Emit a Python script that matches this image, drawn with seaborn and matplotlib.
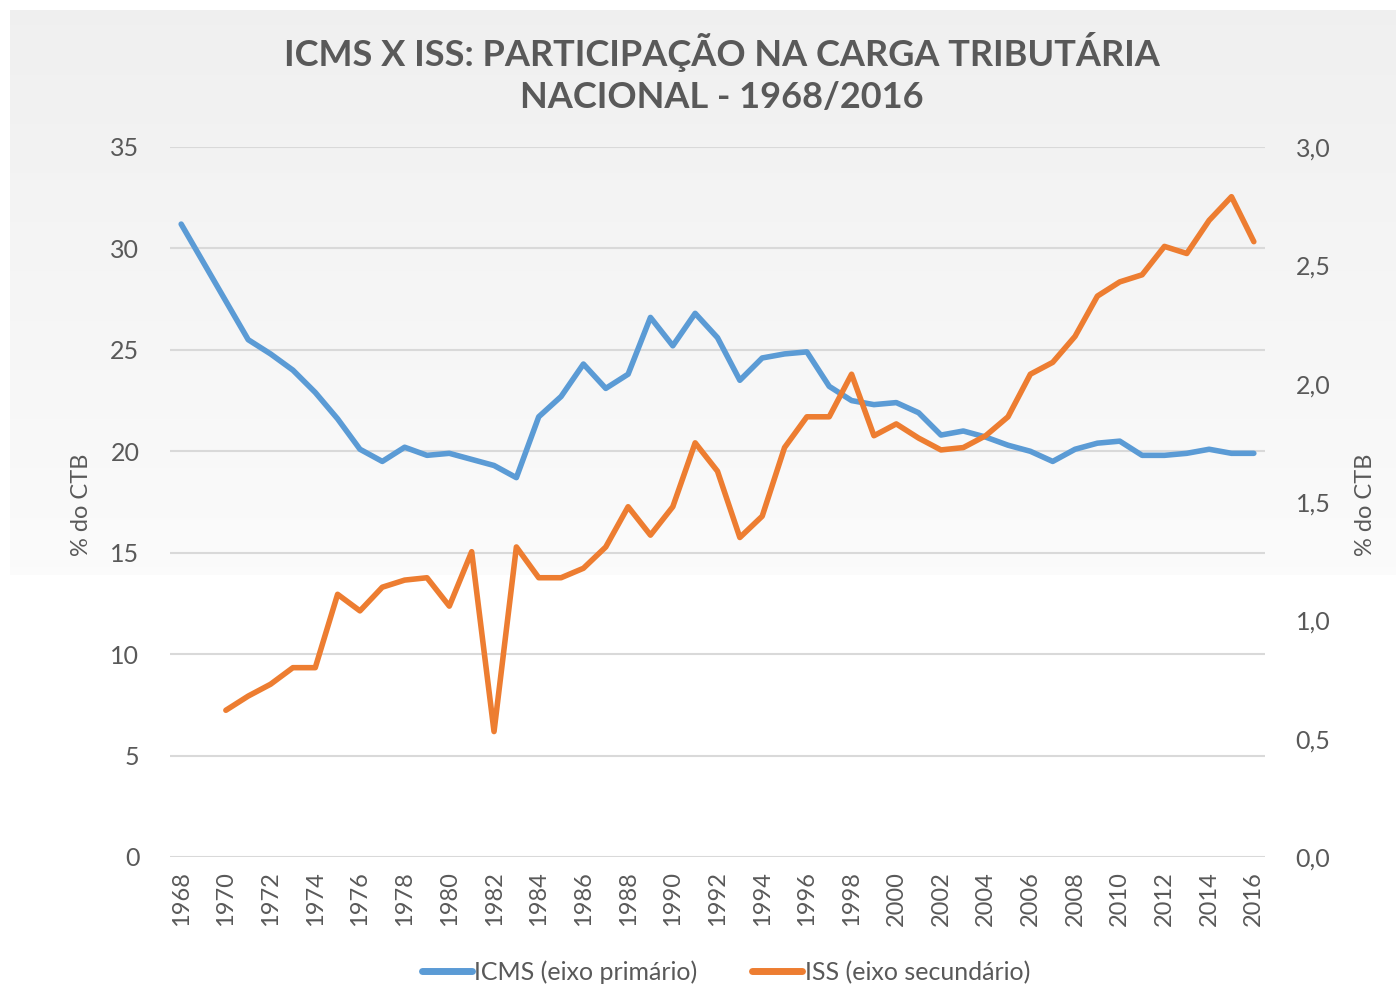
import numpy as np
import pandas as pd
import seaborn as sns
import matplotlib.pyplot as plt
from matplotlib.ticker import FuncFormatter, MultipleLocator

# data
years = list(range(1968, 2017))
icms = [31.2, 29.3, 27.4, 25.5, 24.8, 24.0, 22.9, 21.6, 20.1, 19.5,
        20.2, 19.8, 19.9, 19.6, 19.3, 18.7, 21.7, 22.7, 24.3, 23.1,
        23.8, 26.6, 25.2, 26.8, 25.6, 23.5, 24.6, 24.8, 24.9, 23.2,
        22.5, 22.3, 22.4, 21.9, 20.8, 21.0, 20.7, 20.3, 20.0, 19.5,
        20.1, 20.4, 20.5, 19.8, 19.8, 19.9, 20.1, 19.9, 19.9]
iss = [np.nan, np.nan,
       0.62, 0.68, 0.73, 0.80, 0.80, 1.11, 1.04, 1.14, 1.17, 1.18,
       1.06, 1.29, 0.53, 1.31, 1.18, 1.18, 1.22, 1.31, 1.48, 1.36,
       1.48, 1.75, 1.63, 1.35, 1.44, 1.73, 1.86, 1.86, 2.04, 1.78,
       1.83, 1.77, 1.72, 1.73, 1.78, 1.86, 2.04, 2.09, 2.20, 2.37,
       2.43, 2.46, 2.58, 2.55, 2.69, 2.79, 2.60]

TITLE = "ICMS X ISS: PARTICIPAÇÃO NA CARGA TRIBUTÁRIA\nNACIONAL - 1968/2016"
LABEL_ICMS = "ICMS (eixo primário)"
LABEL_ISS = "ISS (eixo secundário)"
YLABEL = "% do CTB"

BLUE = "#5b9bd5"
ORANGE = "#ed7d31"
GREY_TXT = "#595959"
GRID = "#d9d9d9"

df = pd.DataFrame({"ano": years, "icms": icms, "iss": iss})

sns.set_theme(style="white")
plt.rcParams["font.family"] = ["Lato", "DejaVu Sans"]

W, H, DPI = 1396, 985, 100
fig = plt.figure(figsize=(W / DPI, H / DPI), dpi=DPI)

# light grey gradient background like the spreadsheet chart area
bg = np.ones((H, W, 3))
rows = np.arange(H)
shade = np.where(rows < 10, 1.0,
                 np.where(rows < 575, 0.94 + 0.045 * (rows - 10) / 565, 1.0))
bg[:, :, :] = shade[:, None, None]
bg[:, :10, :] = 1.0
fig.figimage(bg, 0, 0, origin="upper", zorder=-10)

ax = fig.add_axes([170 / W, 1 - 857 / H, 1095 / W, 710 / H])
ax.patch.set_alpha(0)
ax2 = ax.twinx()
ax2.patch.set_alpha(0)

sns.lineplot(data=df, x="ano", y="icms", ax=ax, color=BLUE, lw=4,
             label=LABEL_ICMS, legend=False, solid_capstyle="round")
sns.lineplot(data=df, x="ano", y="iss", ax=ax2, color=ORANGE, lw=4,
             label=LABEL_ISS, legend=False, solid_capstyle="round")

ax.set_xlim(1967.5, 2016.5)
ax.set_ylim(0, 35)
ax2.set_ylim(0, 3.0)
ax.yaxis.set_major_locator(MultipleLocator(5))
ax2.yaxis.set_major_locator(MultipleLocator(0.5))
ax2.yaxis.set_major_formatter(FuncFormatter(lambda v, p: f"{v:.1f}".replace(".", ",")))
ax.set_xticks(years[::2])
ax.set_xticklabels([str(y) for y in years[::2]], rotation=90)

ax.grid(axis="y", color=GRID, lw=1.5)
ax.set_axisbelow(True)
for a in (ax, ax2):
    for s in a.spines.values():
        s.set_visible(False)
    a.tick_params(length=0, colors=GREY_TXT, labelsize=18)
ax.tick_params(axis="y", pad=22)
ax2.tick_params(axis="y", pad=22)
ax.tick_params(axis="x", pad=10, labelsize=17)

ax.set_xlabel("")
ax.set_ylabel(YLABEL, color=GREY_TXT, fontsize=17)
ax2.set_ylabel(YLABEL, color=GREY_TXT, fontsize=17, rotation=90)
ax.yaxis.set_label_coords(-0.071, 0.496)
ax2.yaxis.set_label_coords(1.082, 0.496)

fig.text(0.517, 1 - 73 / H, TITLE, ha="center", va="center", fontsize=26,
         fontweight="bold", color=GREY_TXT, linespacing=1.3)

h1, l1 = ax.get_legend_handles_labels()
h2, l2 = ax2.get_legend_handles_labels()
leg = fig.legend(h1 + h2, l1 + l2, loc="center", bbox_to_anchor=(0.52, 1 - 972 / H),
                 ncol=2, frameon=False, fontsize=18, handlelength=2.0,
                 handletextpad=0.1, columnspacing=2.2, labelcolor=GREY_TXT)
for ln in leg.get_lines():
    ln.set_linewidth(5)

fig.savefig("out.png", dpi=DPI)
